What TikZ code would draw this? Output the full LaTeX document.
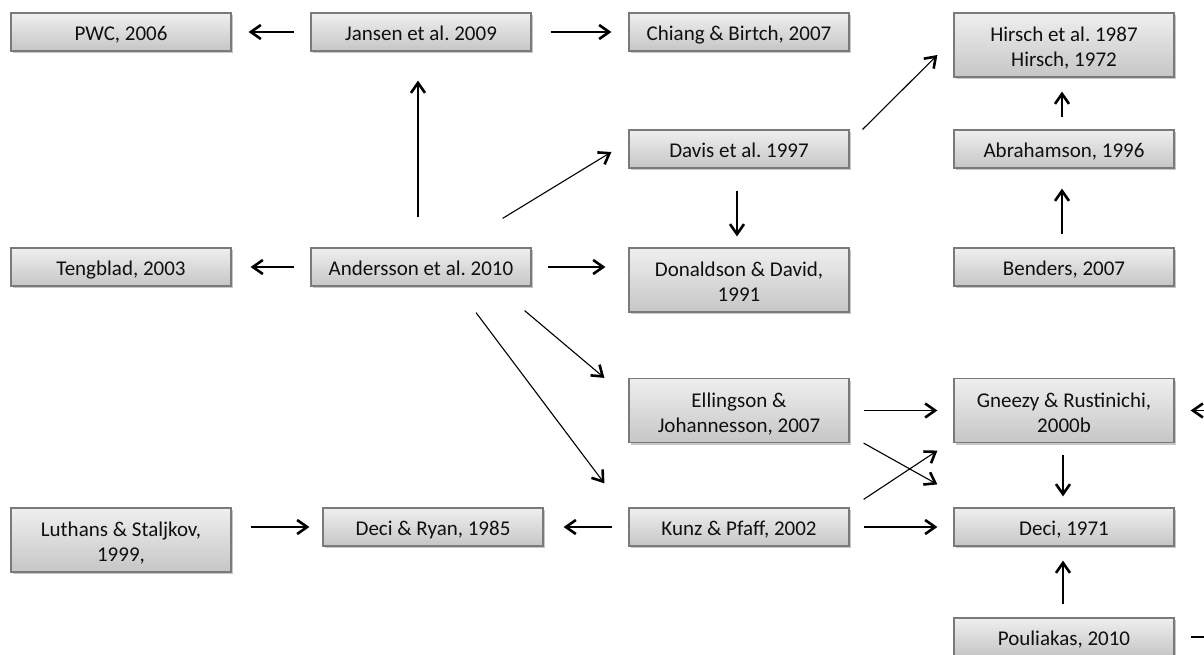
\documentclass[tikz,border=0pt]{standalone}
\usepackage{fontspec}
\setmainfont{Carlito}
\usetikzlibrary{arrows.meta,shadows}
\definecolor{boxtop}{HTML}{EFEFEF}
\definecolor{boxbot}{HTML}{C6C6C6}
\definecolor{boxline}{HTML}{7A7A7A}
\definecolor{txt}{HTML}{101010}
\frenchspacing
\tikzset{
  refbox/.style={draw=boxline, line width=1.2pt, top color=boxtop, bottom color=boxbot,
    minimum width=220pt, minimum height=38pt, inner sep=2pt, align=center, text=txt,
    text height=18pt, text depth=0.5pt,
    font=\fontsize{21}{25}\selectfont,
    drop shadow={shadow xshift=1.5pt, shadow yshift=-2pt, fill=black, opacity=0.22}},
  tall/.style={minimum height=64pt, text height=44pt, text depth=0.5pt},
  arr/.style={line width=1.1pt, black, -{Straight Barb[length=10pt,width=14pt,line width=2.6pt]}},
  plain/.style={line width=1.1pt, black}
}
\begin{document}
\begin{tikzpicture}[x=1pt,y=-1pt]
\useasboundingbox[fill=white] (0,0) rectangle (1204,655);
% column 1
\node[refbox] (pwc) at (121,32) {PWC, 2006};
\node[refbox] (teng) at (121,267) {Tengblad, 2003};
\node[refbox,tall] (luth) at (121,540) {Luthans \& Staljkov,\\1999,};
% column 2
\node[refbox] (jansen) at (421,32) {Jansen et al. 2009};
\node[refbox] (and) at (421,267) {Andersson et al. 2010};
\node[refbox] (decir) at (433,527) {Deci \& Ryan, 1985};
% column 3
\node[refbox] (chiang) at (739,32) {Chiang \& Birtch, 2007};
\node[refbox] (davis) at (739,149) {Davis et al. 1997};
\node[refbox,tall] (donald) at (739,280) {Donaldson \& David,\\1991};
\node[refbox,tall] (ell) at (739,410.5) {Ellingson \&\\Johannesson, 2007};
\node[refbox] (kunz) at (739,527) {Kunz \& Pfaff, 2002};
% column 4
\node[refbox,tall] (hirsch) at (1064,45) {Hirsch et al. 1987\\Hirsch, 1972};
\node[refbox] (abr) at (1064,149) {Abrahamson, 1996};
\node[refbox] (bend) at (1064,267) {Benders, 2007};
\node[refbox,tall] (gneezy) at (1064,410.5) {Gneezy \& Rustinichi,\\2000b};
\node[refbox] (deci71) at (1064,527) {Deci, 1971};
\node[refbox] (poul) at (1064,637) {Pouliakas, 2010};
% off-picture ends
\coordinate (offg) at (1270,410.5);
\coordinate (offp) at (1270,637);
% connectors
\draw[arr, shorten <=16pt, shorten >=17pt] (jansen.west) -- (pwc.east);
\draw[arr, shorten <=19pt, shorten >=17pt] (jansen.east) -- (chiang.west);
\draw[arr, shorten <=30pt, shorten >=29pt] ([xshift=-3pt]and.north) -- ([xshift=-3pt]jansen.south);
\draw[arr] ([xshift=-29pt,yshift=29pt]and.north east) -- ([xshift=-17pt,yshift=-3pt]davis.west);
\draw[arr] ([xshift=13pt]davis.north east) -- ([xshift=-16pt,yshift=-10pt]hirsch.west);
\draw[arr, shorten <=22pt, shorten >=11pt] ([xshift=-2pt]davis.south) -- ([xshift=-2pt]donald.north);
\draw[arr, shorten <=12pt, shorten >=14pt] ([xshift=-2pt]abr.north) -- ([xshift=-2pt]hirsch.south);
\draw[arr, shorten <=13pt, shorten >=20pt] ([xshift=-2pt]bend.north) -- ([xshift=-2pt]abr.south);
\draw[arr, shorten <=16pt, shorten >=19pt] (and.west) -- (teng.east);
\draw[arr, shorten <=16pt, shorten >=23pt] (and.east) -- (and.east -| donald.west);
\draw[arr] ([xshift=-7pt,yshift=-24pt]and.south east) -- ([xshift=-24pt]ell.north west);
\draw[arr] ([xshift=55pt,yshift=-26pt]and.south) -- ([xshift=-24pt,yshift=24pt]kunz.north west);
\draw[arr, shorten <=14pt, shorten >=16pt] (ell.east) -- (gneezy.west);
\draw[arr] ([xshift=14pt]ell.south east) -- ([xshift=-16pt,yshift=23pt]deci71.north west);
\draw[arr] ([xshift=14pt,yshift=8pt]kunz.north east) -- ([xshift=-16pt,yshift=-7.5pt]gneezy.south west);
\draw[arr, shorten <=14pt, shorten >=16pt] (kunz.east) -- (deci71.west);
\draw[arr, shorten <=16pt, shorten >=20pt] (kunz.west) -- (decir.east);
\draw[arr, shorten <=19pt, shorten >=13pt] (decir.west -| luth.east) -- (decir.west);
\draw[arr, shorten <=12pt, shorten >=11pt] ([xshift=-1pt]gneezy.south) -- ([xshift=-1pt]deci71.north);
\draw[arr, shorten <=13pt, shorten >=14pt] ([xshift=-1pt]poul.north) -- ([xshift=-1pt]deci71.south);
\draw[arr, shorten >=16pt] (offg) -- (gneezy.east);
\draw[plain, shorten <=16pt] (poul.east) -- (offp);
\end{tikzpicture}
\end{document}
